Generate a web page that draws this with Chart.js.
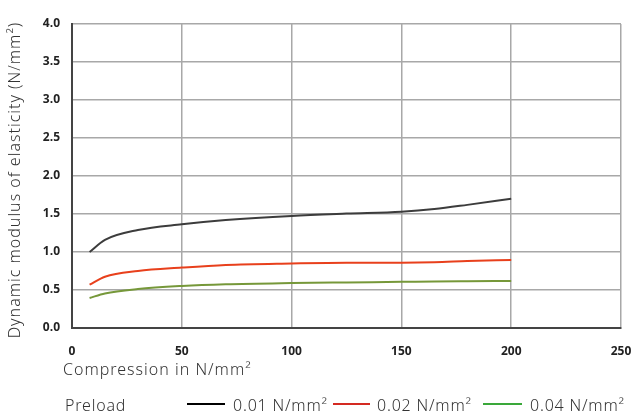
<!DOCTYPE html>
<html>
<head>
<meta charset="utf-8">
<script src="https://cdn.jsdelivr.net/npm/chart.js@4/dist/chart.umd.min.js"></script>
<style>
  html, body { margin: 0; padding: 0; background: #fff; }
  #wrap { position: relative; width: 632px; height: 414px; }
  #chart { position: absolute; left: 0; top: 0; }
  .lg { position: absolute; font-family: "Noto Sans", sans-serif; font-weight: 300; font-size: 16px; color: #333; line-height: 16px; white-space: nowrap; letter-spacing: 0.8px; }
  .ln { position: absolute; height: 2px; }
</style>
</head>
<body>
<div id="wrap">
  <canvas id="chart" width="632" height="414"></canvas>
  <div id="legend"></div>
</div>
<script>
// compression (N/mm²) where the curves were read
const compression = [8, 15, 30, 50, 70, 100, 125, 150, 165, 180, 200];

const preload001 = [1.0, 1.16, 1.29, 1.365, 1.42, 1.475, 1.505, 1.53, 1.565, 1.62, 1.70];
const preload002 = [0.57, 0.675, 0.75, 0.795, 0.83, 0.85, 0.86, 0.86, 0.865, 0.88, 0.895];
const preload004 = [0.395, 0.455, 0.513, 0.553, 0.576, 0.592, 0.6, 0.607, 0.612, 0.615, 0.618];

const seriesLabels = ["0.01 N/mm²", "0.02 N/mm²", "0.04 N/mm²"];
const lineColors = ["#3c3c3c", "#e8401c", "#76983a"];
const legendColors = ["#000000", "#d42a22", "#3aa83a"];

const xTitle = "Compression in N/mm²";
const yTitle = "Dynamic modulus of elasticity (N/mm²)";
const legendTitle = "Preload";

function pts(ys) {
  return compression.map((x, i) => ({ x: x, y: ys[i] }));
}

const titlesPlugin = {
  id: "titles",
  afterDraw(chart) {
    const ctx = chart.ctx;
    ctx.save();
    ctx.fillStyle = "#333";
    ctx.font = "300 16px 'Noto Sans', sans-serif";
    ctx.letterSpacing = "1px";
    ctx.textBaseline = "middle";
    ctx.textAlign = "left";
    ctx.fillText(xTitle, 63, 370);
    ctx.translate(15, 180);
    ctx.rotate(-Math.PI / 2);
    ctx.textAlign = "center";
    ctx.fillText(yTitle, 0, 0);
    ctx.restore();
  }
};

new Chart(document.getElementById("chart"), {
  type: "line",
  data: {
    datasets: [
      { label: seriesLabels[0], data: pts(preload001), borderColor: lineColors[0] },
      { label: seriesLabels[1], data: pts(preload002), borderColor: lineColors[1] },
      { label: seriesLabels[2], data: pts(preload004), borderColor: lineColors[2] }
    ]
  },
  options: {
    responsive: false,
    animation: false,
    layout: { padding: { left: 0, top: 24, right: 11, bottom: 0 } },
    elements: {
      point: { radius: 0 },
      line: { borderWidth: 2, cubicInterpolationMode: "monotone" }
    },
    plugins: { legend: { display: false }, tooltip: { enabled: false } },
    scales: {
      x: {
        type: "linear",
        min: 0, max: 250,
        afterFit(s) { s.height = 86; s.paddingRight = 0; s.paddingLeft = 0; },
        ticks: {
          stepSize: 50, padding: 16, color: "#222",
          font: { family: "'Open Sans'", weight: "bold", size: 12 }
        },
        grid: { color: "#a8a8a8", lineWidth: 1.5, drawTicks: false },
        border: { color: "#444", width: 2 }
      },
      y: {
        min: 0, max: 4,
        afterFit(s) { s.width = 72; s.paddingTop = 0; s.paddingBottom = 0; },
        ticks: {
          stepSize: 0.5, padding: 12, color: "#222",
          font: { family: "'Open Sans'", weight: "bold", size: 12 },
          callback: v => v.toFixed(1)
        },
        grid: { color: "#a8a8a8", lineWidth: 1.5, drawTicks: false },
        border: { color: "#444", width: 2 }
      }
    }
  },
  plugins: [titlesPlugin]
});

// legend below the chart
const legend = document.getElementById("legend");
const legendLines = [[187, 225], [333, 370], [483, 522]];
const legendTexts = [233, 377, 530];
let t = document.createElement("div");
t.className = "lg"; t.style.left = "65px"; t.style.top = "397px";
t.textContent = legendTitle;
legend.appendChild(t);
seriesLabels.forEach((lab, i) => {
  const l = document.createElement("div");
  l.className = "ln";
  l.style.left = legendLines[i][0] + "px";
  l.style.width = (legendLines[i][1] - legendLines[i][0]) + "px";
  l.style.top = "403px";
  l.style.background = legendColors[i];
  legend.appendChild(l);
  const s = document.createElement("div");
  s.className = "lg";
  s.style.left = legendTexts[i] + "px";
  s.style.top = "397px";
  s.textContent = lab;
  legend.appendChild(s);
});
</script>
</body>
</html>
